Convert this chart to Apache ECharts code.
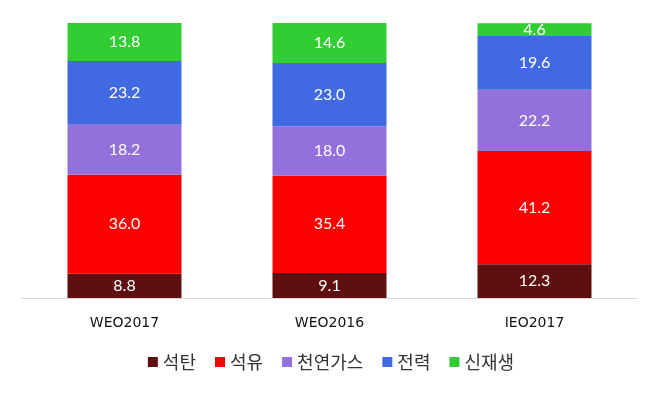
<!DOCTYPE html>
<html><head><meta charset="utf-8">
<script src="https://cdn.jsdelivr.net/npm/echarts@6/dist/echarts.min.js"></script>
<style>html,body{margin:0;padding:0;background:#fff}#c{width:662px;height:393px}</style>
</head><body><div id="c"></div>
<script>
const categories = ['WEO2017', 'WEO2016', 'IEO2017'];
const coal = [8.8, 9.1, 12.3];
const oil = [36.0, 35.4, 41.2];
const gas = [18.2, 18.0, 22.2];
const power = [23.2, 23.0, 19.6];
const renew = [13.8, 14.6, 4.6];
const names = ['석탄', '석유', '천연가스', '전력', '신재생'];
const colors = ['#5E0F0F', '#FF0000', '#9370DB', '#4169E1', '#32CD32'];
const dataSets = [coal, oil, gas, power, renew];

const chart = echarts.init(document.getElementById('c'));
chart.setOption({
  animation: false,
  grid: {left: 22, right: 25, top: 23, bottom: 95},
  legend: {
    bottom: 17, left: 'center', itemWidth: 10, itemHeight: 10, itemGap: 19,
    icon: 'rect',
    textStyle: {fontSize: 18, color: '#333', fontFamily: 'Noto Sans CJK KR'},
    data: names
  },
  xAxis: {
    type: 'category', data: categories,
    axisLine: {lineStyle: {color: '#d9d9d9', width: 1}},
    axisTick: {show: false},
    axisLabel: {fontSize: 14, color: '#111', margin: 18, fontFamily: 'DejaVu Sans'}
  },
  yAxis: {type: 'value', min: 0, max: 100, show: false, splitLine: {show: false}},
  series: dataSets.map((d, i) => ({
    name: names[i], type: 'bar', stack: 'a', data: d, barWidth: 114,
    itemStyle: {color: colors[i]},
    label: {show: true, color: '#fff', fontSize: 16, fontFamily: 'Lato',
      formatter: p => p.value.toFixed(1)}
  }))
});
</script></body></html>
